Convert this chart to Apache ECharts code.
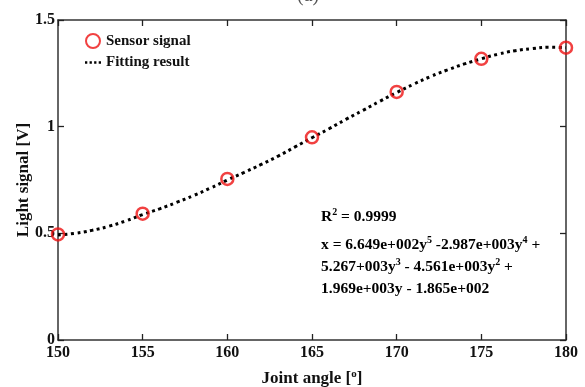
<!DOCTYPE html>
<html><head><meta charset="utf-8">
<script src="https://cdn.jsdelivr.net/npm/echarts@6/dist/echarts.min.js"></script>
<style>html,body{margin:0;padding:0;background:#fff}#c{width:585px;height:387px}</style>
</head><body><div id="c"></div>
<script>
const xTicks = [150, 155, 160, 165, 170, 175, 180];
const yTicks = [0, 0.5, 1, 1.5];
const sensorAngles = [150, 155, 160, 165, 170, 175, 180];
const sensorSignal = [0.495, 0.592, 0.755, 0.95, 1.163, 1.318, 1.37];
const fitAngles = [150,151,152,153,154,155,156,157,158,159,160,161,162,163,164,165,166,167,168,169,170,171,172,173,174,175,176,177,178,179,180];
const fitSignal = [0.492,0.500,0.514,0.533,0.558,0.588,0.615,0.645,0.677,0.712,0.750,0.786,0.823,0.862,0.905,0.948,0.990,1.034,1.076,1.119,1.160,1.199,1.235,1.266,1.294,1.318,1.340,1.356,1.366,1.372,1.370];

const FONT = '"Liberation Serif", "Times New Roman", serif';
const chart = echarts.init(document.getElementById('c'));
const axisCommon = {
  axisLine: {show: true, onZero: false, lineStyle: {color: '#333', width: 1.5}},
  axisTick: {show: true, inside: true, length: 6, lineStyle: {color: '#222', width: 1.3}},
  splitLine: {show: false}
};
const rich = {
  t: {fontFamily: FONT, fontSize: 15.5, fontWeight: 'bold', color: '#111', lineHeight: 22},
  s: {fontFamily: FONT, fontSize: 10, fontWeight: 'bold', color: '#111', lineHeight: 22, padding: [0, 0, 9, 0]}
};
const richName = {
  t: {fontFamily: FONT, fontSize: 17, fontWeight: 'bold', color: '#111', lineHeight: 22},
  s: {fontFamily: FONT, fontSize: 11, fontWeight: 'bold', color: '#111', lineHeight: 22, padding: [0, 0, 9, 0]}
};
chart.setOption({
  backgroundColor: '#fff',
  animation: false,
  title: {text: '(a)', left: 292, top: -19, textStyle: {fontFamily: FONT, fontSize: 20, fontWeight: 'normal', color: '#555'}},
  grid: {left: 58, right: 19, top: 20, bottom: 47, containLabel: false, outerBoundsMode: 'none'},
  legend: {
    left: 80, top: 28, orient: 'vertical', itemGap: 6, itemWidth: 16, itemHeight: 14,
    textStyle: {fontFamily: FONT, fontSize: 15, fontWeight: 'bold', color: '#111'},
    data: [
      {name: 'Sensor signal', icon: 'circle'},
      {name: 'Fitting result', icon: 'path://M0,0h3v3h-3zM6,0h3v3h-3zM12,0h3v3h-3zM18,0h3v3h-3z', itemStyle: {color: '#000', borderWidth: 0}}
    ]
  },
  xAxis: [
    Object.assign({type: 'value', min: 150, max: 180, interval: 5, position: 'bottom',
      axisLabel: {fontFamily: FONT, fontSize: 16, fontWeight: 'bold', color: '#111', margin: 5,
        formatter: v => xTicks.includes(v) ? String(v) : ''},
      name: '{t|Joint angle [}{s|o}{t|]}', nameLocation: 'middle', nameGap: 28,
      nameTextStyle: {rich: richName}
    }, axisCommon),
    Object.assign({type: 'value', min: 150, max: 180, interval: 5, position: 'top', axisLabel: {show: false}}, axisCommon)
  ],
  yAxis: [
    Object.assign({type: 'value', min: 0, max: 1.5, interval: 0.5, position: 'left',
      axisLabel: {fontFamily: FONT, fontSize: 16, fontWeight: 'bold', color: '#111', margin: 3,
        formatter: v => yTicks.includes(v) ? String(v) : ''},
      name: 'Light signal [V]', nameLocation: 'middle', nameGap: 26, nameMoveOverlap: false,
      nameTextStyle: {fontFamily: FONT, fontSize: 17, fontWeight: 'bold', color: '#111'}
    }, axisCommon),
    Object.assign({type: 'value', min: 0, max: 1.5, interval: 0.5, position: 'right', axisLabel: {show: false}}, axisCommon)
  ],
  series: [
    {
      name: 'Fitting result', type: 'line', smooth: true, symbol: 'none', z: 2,
      data: fitAngles.map((a, i) => [a, fitSignal[i]]),
      lineStyle: {color: '#000', width: 3, type: [3, 3.5], cap: 'butt'},
      itemStyle: {color: '#000'}
    },
    {
      name: 'Sensor signal', type: 'scatter', symbol: 'circle', symbolSize: 12, z: 3,
      data: sensorAngles.map((a, i) => [a, sensorSignal[i]]),
      itemStyle: {color: 'rgba(255,255,255,0)', borderColor: '#ee1111', borderWidth: 2.5}
    }
  ],
  graphic: [
    {type: 'text', left: 321, top: 207, style: {text: '{t|R}{s|2}{t| = 0.9999}', rich: rich}},
    {type: 'text', left: 321, top: 235, style: {
      text: '{t|x = 6.649e+002y}{s|5}{t| -2.987e+003y}{s|4}{t| +}\n{t|5.267+003y}{s|3}{t| - 4.561e+003y}{s|2}{t| +}\n{t|1.969e+003y - 1.865e+002}',
      rich: rich
    }}
  ]
});
</script></body></html>
